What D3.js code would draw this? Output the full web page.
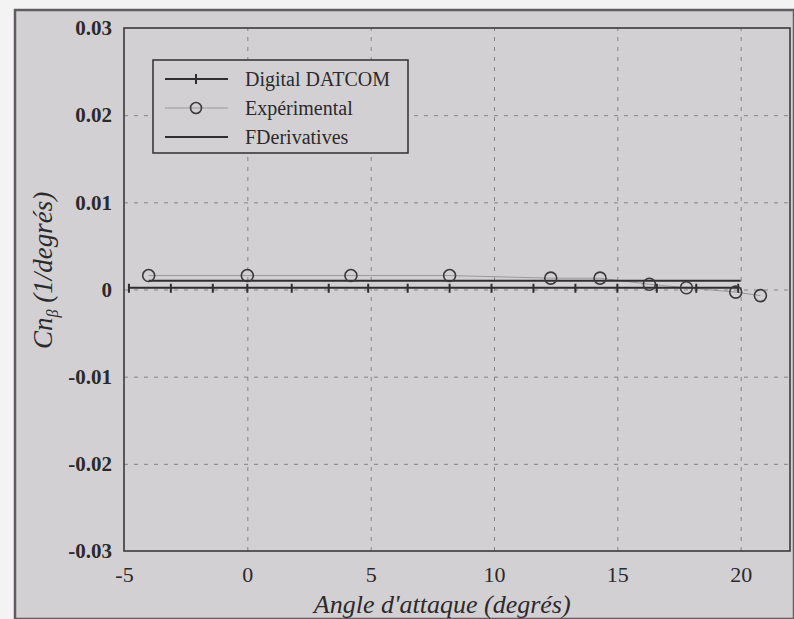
<!DOCTYPE html>
<html>
<head>
<meta charset="utf-8">
<script src="https://cdn.jsdelivr.net/npm/d3@7"></script>
<style>
  body { margin: 0; background: #f4f3f4; }
  svg { display: block; }
  text { font-family: "Liberation Serif", "DejaVu Serif", serif; fill: #2b2a2c; }
</style>
</head>
<body>
<svg id="chart"></svg>
<script>
// data
const datcomAlpha = [-4.8, -3.1, -1.4, 0, 1.8, 3.3, 4.9, 6.5, 8.2, 9.9, 11.6, 13.3, 15, 16.6, 18.2, 19.9];
const datcomCn = [0.0002, 0.0002, 0.0002, 0.0002, 0.0002, 0.0002, 0.0002, 0.0002, 0.0002, 0.0002, 0.0002, 0.0002, 0.0002, 0.0002, 0.0002, 0.0002];
const expAlpha = [-4, 0, 4.2, 8.2, 12.3, 14.3, 16.3, 17.8, 19.8, 20.8];
const expCn = [0.0016, 0.0016, 0.0016, 0.0016, 0.0013, 0.0013, 0.0006, 0.0002, -0.0003, -0.0007];
const fderAlpha = [-4, 20];
const fderCn = [0.001, 0.001];
const xTicks = [-5, 0, 5, 10, 15, 20];
const yTicks = [0.03, 0.02, 0.01, 0, -0.01, -0.02, -0.03];
const legendLabels = ["Digital DATCOM", "Expérimental", "FDerivatives"];

const W = 794, H = 619;
const margin = { top: 28, right: 4, bottom: 68, left: 124 };
const width = W - margin.left - margin.right;
const height = H - margin.top - margin.bottom;

// plain hyphen instead of d3's unicode minus, as in the printed figure
const hyphen = f => d => f(d).replace('\u2212', '-');

const svg = d3.select('#chart').attr('width', W).attr('height', H);

// scanned page
svg.append('rect')
    .attr('x', 15).attr('y', 10).attr('width', W - 15).attr('height', H - 10)
    .attr('fill', '#d3d0d3').attr('stroke', '#5f5d60').attr('stroke-width', 2.5);

const g = svg.append('g').attr('transform', `translate(${margin.left},${margin.top})`);

const xScale = d3.scaleLinear().domain([-5, 22]).range([0, width]);
const yScale = d3.scaleLinear().domain([-0.03, 0.03]).range([height, 0]);

// grid lines
g.append('g')
    .attr('class', 'grid')
    .attr('transform', `translate(0,${height})`)
    .call(d3.axisBottom(xScale).tickValues(xTicks.slice(1)).tickSize(-height).tickFormat(''))
    .call(s => s.select('.domain').remove())
    .selectAll('line')
    .attr('stroke', '#858386').attr('stroke-dasharray', '4,6').attr('stroke-width', 1);

g.append('g')
    .attr('class', 'grid')
    .call(d3.axisLeft(yScale).tickValues(yTicks.slice(1, -1)).tickSize(-width).tickFormat(''))
    .call(s => s.select('.domain').remove())
    .selectAll('line')
    .attr('stroke', '#858386').attr('stroke-dasharray', '4,6').attr('stroke-width', 1);

// frame
g.append('rect')
    .attr('width', width).attr('height', height)
    .attr('fill', 'none').attr('stroke', '#3a393b').attr('stroke-width', 1.6);

// tick labels
g.append('g')
    .attr('transform', `translate(0,${height})`)
    .call(d3.axisBottom(xScale).tickValues(xTicks).tickSize(0).tickPadding(15).tickFormat(hyphen(d3.format('d'))))
    .call(s => s.select('.domain').remove())
    .selectAll('text')
    .attr('font-size', 22).attr('fill', '#2b2a2c')
    .style('font-family', '"Liberation Serif", serif');

g.append('g')
    .call(d3.axisLeft(yScale).tickValues(yTicks).tickSize(0).tickPadding(12)
        .tickFormat(hyphen(d => d === 0 ? '0' : d3.format('.2f')(d))))
    .call(s => s.select('.domain').remove())
    .selectAll('text')
    .attr('font-size', 21).attr('font-weight', 'bold').attr('fill', '#2b2a2c')
    .style('font-family', '"Liberation Serif", serif');

// axis titles
svg.append('text')
    .attr('x', margin.left + xScale(7.9)).attr('y', 613)
    .attr('text-anchor', 'middle')
    .attr('font-size', 26).attr('font-style', 'italic')
    .text("Angle d'attaque (degrés)");

const yt = svg.append('text')
    .attr('transform', `translate(52,${margin.top + yScale(0.0022)}) rotate(-90)`)
    .attr('text-anchor', 'middle')
    .attr('font-size', 27).attr('font-style', 'italic');
yt.append('tspan').text('Cn');
yt.append('tspan').attr('font-size', 16).attr('dy', 6).text('β');
yt.append('tspan').attr('dy', -6).text(' (1/degrés)');

// series
const line = d3.line().x(d => xScale(d[0])).y(d => yScale(d[1]));

const expData = d3.zip(expAlpha, expCn);
const datcomData = d3.zip(datcomAlpha, datcomCn);
const fderData = d3.zip(fderAlpha, fderCn);

g.append('path').datum(expData)
    .attr('fill', 'none').attr('stroke', '#9a989b').attr('stroke-width', 1).attr('d', line);

g.append('path').datum(fderData)
    .attr('fill', 'none').attr('stroke', '#2e2d2f').attr('stroke-width', 2).attr('d', line);

g.append('path').datum(datcomData)
    .attr('fill', 'none').attr('stroke', '#2e2d2f').attr('stroke-width', 2).attr('d', line);

g.selectAll('.datcom-tick').data(datcomData).enter().append('line')
    .attr('class', 'datcom-tick')
    .attr('x1', d => xScale(d[0])).attr('x2', d => xScale(d[0]))
    .attr('y1', d => yScale(d[1]) - 4).attr('y2', d => yScale(d[1]) + 5)
    .attr('stroke', '#2e2d2f').attr('stroke-width', 2);

g.selectAll('.exp-pt').data(expData).enter().append('circle')
    .attr('class', 'exp-pt')
    .attr('cx', d => xScale(d[0])).attr('cy', d => yScale(d[1])).attr('r', 6)
    .attr('fill', 'none').attr('stroke', '#3a393b').attr('stroke-width', 1.6);

// legend
const lg = svg.append('g').attr('transform', 'translate(153,60)');
lg.append('rect').attr('width', 255).attr('height', 93)
    .attr('fill', '#d3d0d3').attr('stroke', '#3a393b').attr('stroke-width', 1.6);

const rowY = [19, 48, 77];
legendLabels.forEach((lab, i) => {
    const row = lg.append('g').attr('transform', `translate(0,${rowY[i]})`);
    row.append('line').attr('x1', 12).attr('x2', 75)
        .attr('stroke', i === 1 ? '#9a989b' : '#2e2d2f').attr('stroke-width', i === 1 ? 1 : 2);
    if (i === 0) {
        row.append('line').attr('x1', 43).attr('x2', 43).attr('y1', -5).attr('y2', 5)
            .attr('stroke', '#2e2d2f').attr('stroke-width', 2);
    }
    if (i === 1) {
        row.append('circle').attr('cx', 43).attr('r', 5.5)
            .attr('fill', 'none').attr('stroke', '#3a393b').attr('stroke-width', 1.6);
    }
    row.append('text').attr('x', 92).attr('y', 7).attr('font-size', 20).text(lab);
});
</script>
</body>
</html>
